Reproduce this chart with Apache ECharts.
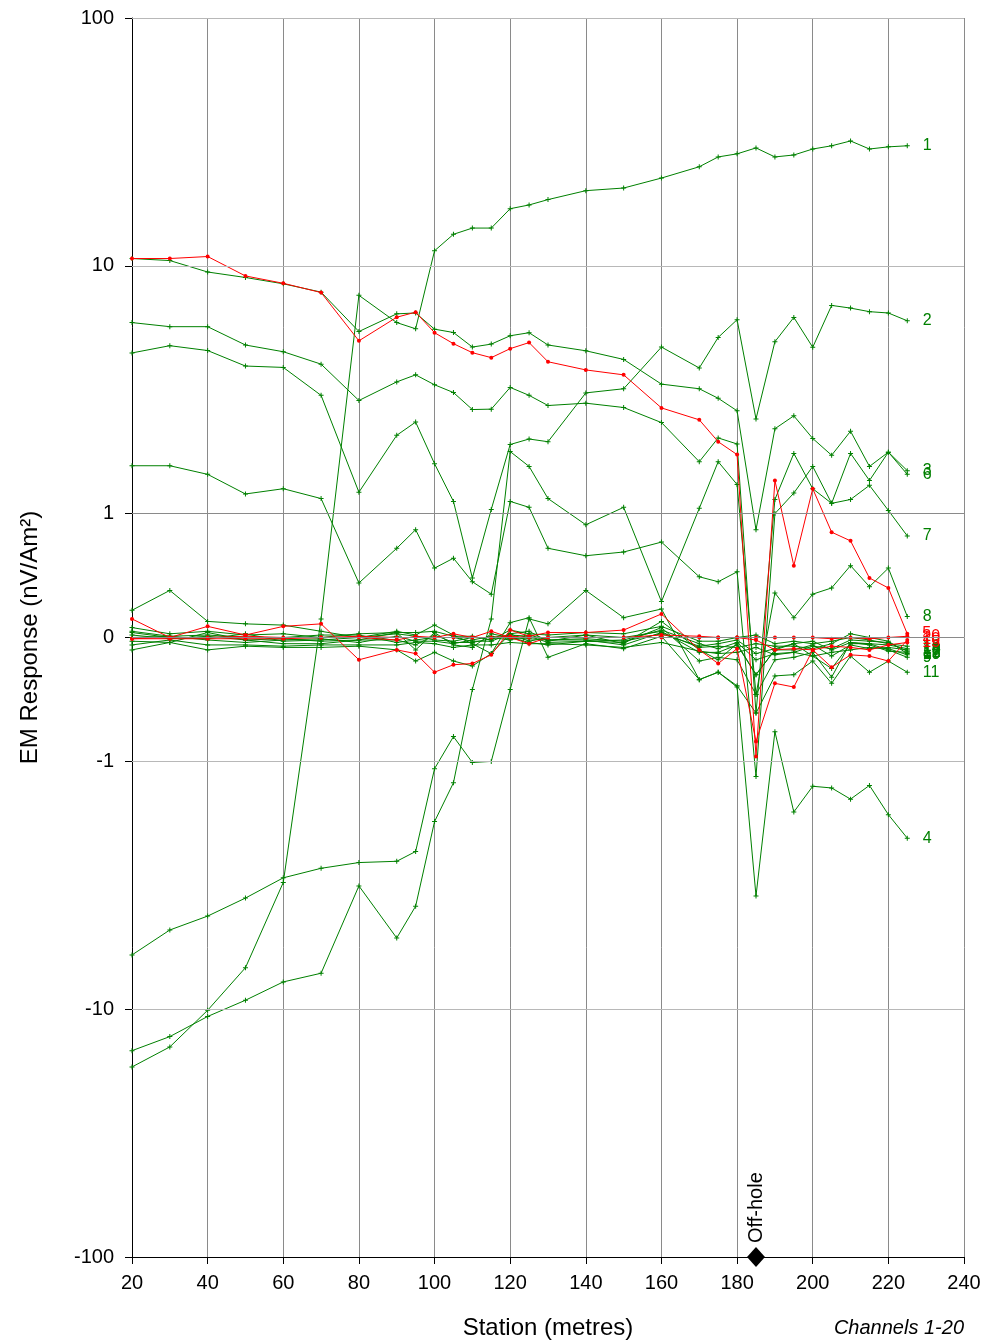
<!DOCTYPE html>
<html><head><meta charset="utf-8">
<script src="https://cdn.jsdelivr.net/npm/echarts@6/dist/echarts.min.js"></script>
<style>html,body{margin:0;padding:0;background:#fff}#c{width:986px;height:1344px}</style>
</head><body><div id="c"></div>
<script>
// Stations (metres)
const stations = [20,30,40,50,60,70,80,90,95,100,105,110,115,120,125,130,140,150,160,170,175,180,185,190,195,200,205,210,215,220,225];

// EM response per channel (nV/Am²)
const ch1  = [-17.1,-14.2,-10.1,-6.8,-3.08, 0.15,7.6,5.9,5.57,11.5, 13.4,14.2,14.2,17.0,17.6, 18.5,20.1,20.6,22.6,25.1, 27.5,28.3,29.9,27.5,28.0, 29.6,30.5,31.9,29.6,30.2, 30.5];
const ch2  = [4.45,4.76,4.55,3.94,3.89, 3.00,1.22,2.07,2.34,1.59, 1.12,0.48,1.04,1.90,2.00, 1.95,3.07,3.19,4.70,3.87, 5.14,6.06,2.41,4.94,6.19, 4.69,6.92,6.75,6.53,6.45, 6.00];
const ch3  = [10.7,10.5,9.44,8.97,8.46, 7.83,5.43,6.40,6.45,5.55, 5.38,4.70,4.83,5.22,5.37, 4.79,4.54,4.19,3.33,3.19, 2.92,2.60,0.87,2.20,2.48, 2.01,1.72,2.15,1.55,1.77, 1.49];
const ch4  = [-6.04,-4.79,-4.21,-3.56,-2.95, -2.70,-2.56,-2.53,-2.31,-1.07, -0.80,-1.01,-1.00,-0.42,0.15, 0.11,0.38,0.16,0.23,-0.34, -0.28,-0.40,-3.49,-0.76,-1.60, -1.26,-1.28,-1.42,-1.25,-1.64, -2.04];
const ch5  = [10.7,10.7,10.9,9.1,8.5, 7.8,4.98,6.2,6.5,5.37, 4.85,4.46,4.26,4.63,4.9, 4.1,3.8,3.63,2.67,2.39, 1.95,1.73,-0.96,1.36,0.58, 1.26,0.85,0.78,0.48,0.40, 0.03];
const ch6  = [5.90,5.68,5.68,4.79,4.50, 4.01,2.86,3.40,3.63,3.31, 3.08,2.63,2.64,3.23,3.00, 2.73,2.79,2.68,2.33,1.62, 2.02,1.91,-0.61,1.14,1.75, 1.26,1.10,1.75,1.36,1.77, 1.44];
const ch7  = [1.56,1.56,1.44,1.20,1.26, 1.15,0.44,0.72,0.87,0.56, 0.64,0.45,0.35,1.12,1.06, 0.72,0.66,0.69,0.77,0.49, 0.45,0.53,-1.15,1.00,1.21, 1.55,1.10,1.14,1.30,1.03, 0.82];
const ch8  = [-14.7,-12.9,-10.7,-9.20,-7.76, -7.16,-3.18,-5.16,-3.84,-1.75, -1.22,-0.42,0.15,1.78,1.55, 1.15,0.91,1.06,0.29,1.05, 1.62,1.31,-0.46,0.36,0.16, 0.35,0.40,0.58,0.41,0.56, 0.17];
const ch9  = [0.22,0.38,0.13,0.11,0.10, 0.05,0.00,0.05,0.02,0.10, 0.02,-0.05,-0.13,0.03,0.05, -0.03,0.02,-0.05,0.13,-0.10, -0.18,-0.05,-0.30,-0.10,-0.05, -0.15,-0.25,-0.05,-0.05,-0.10, -0.16];
const ch10 = [0.15,0.00,0.09,0.02,0.09, 0.11,-0.18,-0.10,-0.13,-0.28, -0.22,-0.21,-0.14,0.06,0.01, 0.04,0.04,0.06,0.19,-0.10, -0.21,-0.09,-0.84,-0.37,-0.40, -0.10,-0.24,-0.14,-0.15,-0.19, -0.02];
const ch11 = [-0.10,-0.04,-0.10,-0.07,-0.08, -0.08,-0.07,-0.10,-0.19,-0.12, -0.19,-0.23,-0.13,0.12,0.16, -0.16,-0.05,-0.09,0.01,-0.34, -0.28,-0.39,-0.61,-0.31,-0.30, -0.19,-0.37,-0.15,-0.28,-0.19, -0.28];
const ch12 = [-0.03,-0.04,0.04,-0.02,-0.05, -0.05,-0.02,0.04,-0.10,0.04, -0.06,-0.08,0.03,0.00,-0.04, -0.06,-0.03,-0.04,0.08,-0.19, -0.16,-0.18,-0.46,-0.18,-0.16, -0.12,-0.32,-0.04,-0.06,-0.11, -0.12];
const ch13 = [0.05,0.01,0.02,0.00,0.00, 0.02,0.02,-0.04,-0.02,0.00, 0.00,-0.03,-0.03,0.03,-0.03, 0.00,0.02,0.00,0.05,-0.12, -0.12,-0.06,-0.30,-0.10,-0.10, -0.06,-0.15,-0.06,-0.09,-0.08, -0.10];
const ch14 = [0.04,0.00,-0.01,0.03,-0.03, -0.02,0.00,0.03,0.01,-0.02, -0.03,0.00,0.00,-0.02,0.02, -0.02,-0.01,-0.03,0.03,-0.07, -0.05,-0.02,-0.13,-0.09,-0.05, -0.03,-0.10,-0.04,-0.05,-0.06, -0.09];
const ch15 = [-0.01,0.00,0.00,0.01,0.00, 0.00,0.01,0.00,0.00,0.00, 0.03,0.00,0.05,0.00,-0.05, 0.00,0.00,0.00,0.02,0.01, 0.00,0.00,-0.02,-0.10,-0.09, -0.10,-0.07,-0.08,-0.10,-0.06, -0.04];
const ch16 = [0.08,0.03,0.05,0.02,0.03, 0.00,0.03,0.04,0.04,0.05, 0.01,0.01,-0.02,0.06,0.03, 0.02,0.04,0.03,0.09,-0.03, -0.03,0.00,0.02,-0.05,-0.03, -0.05,-0.03,0.00,-0.02,-0.05, -0.07];
const ch17 = [0.02,-0.01,0.01,-0.02,-0.01, -0.03,-0.02,-0.02,-0.06,0.02, -0.04,-0.04,-0.01,0.02,0.01, -0.04,-0.03,-0.02,0.06,-0.05, -0.09,-0.04,-0.18,-0.13,-0.12, -0.07,-0.09,-0.02,-0.03,-0.04, -0.11];
const ch18 = [0.00,0.01,-0.02,-0.04,-0.02, -0.01,-0.04,0.01,-0.03,-0.03, -0.05,-0.02,0.01,-0.01,-0.01, -0.02,-0.02,-0.06,0.04,-0.08, -0.07,-0.08,-0.05,-0.07,-0.07, -0.09,-0.05,0.03,0.00,-0.03, -0.13];
const ch19 = [-0.06,-0.02,-0.06,-0.06,-0.07, -0.06,-0.06,-0.06,-0.04,-0.05, -0.08,-0.06,-0.06,-0.04,-0.05, -0.05,-0.06,-0.08,-0.04,-0.11, -0.13,-0.12,-0.08,-0.14,-0.12, -0.15,-0.12,-0.10,-0.08,-0.09, -0.14];
const ch20 = [-0.01,-0.01,-0.01,-0.01,-0.01, 0.00,0.00,-0.02,0.01,0.00, 0.00,0.00,0.00,0.01,0.00, 0.00,0.00,0.00,0.00,0.00, 0.00,0.00,0.00,0.00,0.00, 0.00,-0.01,0.00,-0.01,0.00, 0.01];

const channels = [ch1,ch2,ch3,ch4,ch5,ch6,ch7,ch8,ch9,ch10,ch11,ch12,ch13,ch14,ch15,ch16,ch17,ch18,ch19,ch20];
const redChannels = [5,10,15,20];
const yTickValues = [-100,-10,-1,0,1,10,100];
const xTicks = {min:20, max:240, interval:20};
const offHoleStation = 185;
const offHoleValue = -100;

// symmetric log transform: linear between -1 and 1, one decade per step outside
function tr(v){ const a = Math.abs(v); return a < 1 ? v*0.5 : Math.sign(v)*(0.5 + Math.log10(a)); }

const FONT = 'Liberation Sans, Arial, sans-serif';
const GREEN = '#008000', RED = '#ff0000';
const plusPath = 'path://M-0.6,-3L0.6,-3L0.6,-0.6L3,-0.6L3,0.6L0.6,0.6L0.6,3L-0.6,3L-0.6,0.6L-3,0.6L-3,-0.6L-0.6,-0.6Z';

const tickT = yTickValues.map(tr);

const series = channels.map((vals, k) => {
  const n = k + 1;
  const red = redChannels.includes(n);
  const col = red ? RED : GREEN;
  const data = stations.map((s, i) => {
    const p = [s, tr(vals[i])];
    if (i === stations.length - 1) {
      return {value: p, label: {show: true, position: 'right', distance: 13, formatter: String(n),
        color: col, fontSize: 16, fontFamily: FONT}};
    }
    return p;
  });
  return {
    type: 'line', name: 'Ch ' + n, data,
    color: col,
    lineStyle: {width: 1, color: col},
    itemStyle: {color: col},
    symbol: red ? 'circle' : plusPath,
    symbolSize: red ? 4 : 5,
    showSymbol: true,
    label: {show: false},
    z: red ? 4 : 3,
    silent: true
  };
});

// horizontal grid lines
const gridColors = {'100':'#b8b8b8','10':'#b8b8b8','1':'#8a8a8a','0':'#8a8a8a','-1':'#b8b8b8','-10':'#b8b8b8'};
series.unshift({
  type: 'line', data: [], z: 1, silent: true,
  markLine: {
    silent: true, symbol: ['none','none'], label: {show: false}, animation: false,
    data: yTickValues.filter(v => v !== -100).map(v => ({yAxis: tr(v), lineStyle: {color: gridColors[String(v)], width: 1, type: 'solid'}}))
  }
});

series.push({
  type: 'scatter', data: [[offHoleStation, tr(offHoleValue)]],
  symbol: 'diamond', symbolSize: [18, 20], clip: false, z: 10, silent: true,
  itemStyle: {color: '#000', opacity: 1},
  label: {show: true, formatter: 'Off-hole', position: 'top', distance: 4, rotate: 90,
    align: 'left', verticalAlign: 'middle', fontSize: 20, color: '#000', opacity: 1, fontFamily: FONT}
});

const chart = echarts.init(document.getElementById('c'), null, {renderer: 'canvas'});
chart.setOption({
  animation: false,
  backgroundColor: '#fff',
  textStyle: {fontFamily: FONT},
  grid: {left: 132, right: 22, top: 18, bottom: 87, containLabel: false, outerBoundsMode: 'none'},
  xAxis: {
    type: 'value', min: xTicks.min, max: xTicks.max, interval: xTicks.interval,
    axisLine: {show: true, onZero: false, lineStyle: {color: '#000', width: 1}},
    axisTick: {show: true, length: 7, lineStyle: {color: '#000'}},
    axisLabel: {fontSize: 20, color: '#000', margin: 16, fontFamily: FONT},
    splitLine: {show: true, lineStyle: {color: '#8a8a8a', width: 1}},
    name: 'Station (metres)', nameLocation: 'middle', nameGap: 59,
    nameTextStyle: {fontSize: 24, color: '#000', fontFamily: FONT}
  },
  yAxis: {
    type: 'value', min: -2.5, max: 2.5, interval: 0.5,
    axisLine: {show: true, onZero: false, lineStyle: {color: '#000', width: 1}},
    axisTick: {show: true, length: 7, customValues: tickT, lineStyle: {color: '#000'}},
    axisLabel: {customValues: tickT, fontSize: 20, color: '#000', margin: 18, fontFamily: FONT,
      formatter: v => { const i = tickT.findIndex(t => Math.abs(t - v) < 1e-6); return i >= 0 ? String(yTickValues[i]) : ''; }},
    splitLine: {show: false},
    name: 'EM Response (nV/Am²)', nameLocation: 'middle', nameGap: 90,
    nameTextStyle: {fontSize: 24, color: '#000', fontFamily: FONT}
  },
  graphic: [{
    type: 'text', right: 22, top: 1318, silent: true,
    style: {text: 'Channels 1-20', font: 'italic 20px ' + FONT, fill: '#000'}
  }],
  series
});
</script></body></html>
